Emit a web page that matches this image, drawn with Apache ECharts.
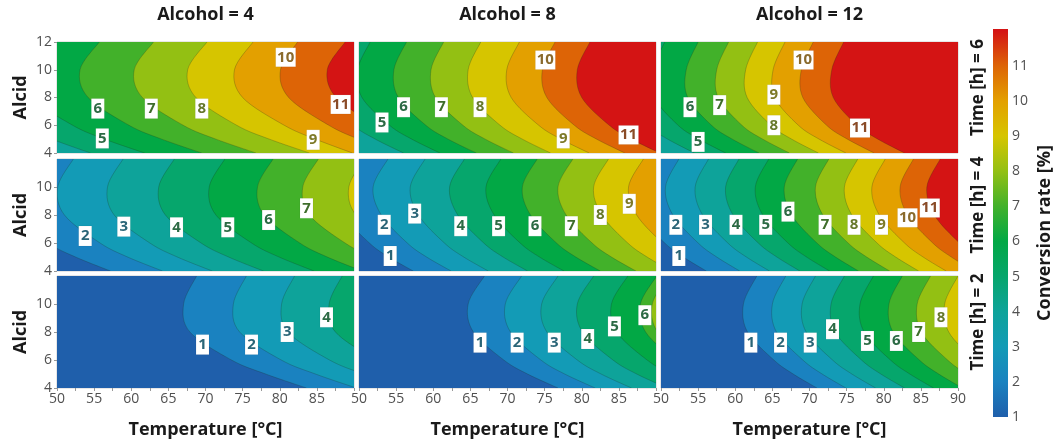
<!DOCTYPE html>
<html>
<head>
<meta charset="utf-8">
<script src="https://cdn.jsdelivr.net/npm/echarts@6/dist/echarts.min.js"></script>
<style>
  html, body { margin: 0; padding: 0; background: #fff; }
  #chart { width: 1055px; height: 442px; }
</style>
</head>
<body>
<div id="chart"></div>
<script>
const alcidSamples = [4, 5, 6, 8, 10, 12];
const alcohols = [4, 8, 12];
const times = [6, 4, 2];

// [level, T at alcid 4, 5, 6, 8, 10, 12]
const contoursT6A4 = [
  [4, 54.5, 49.3, 45.0, 39.6, 38.6, 41.2],
  [5, 61.8, 56.4, 52.1, 46.6, 45.6, 48.2],
  [6, 69.5, 64.1, 59.7, 54.2, 53.1, 55.7],
  [7, 76.8, 71.4, 67.0, 61.5, 60.4, 63.0],
  [8, 84.0, 78.6, 74.2, 68.7, 67.6, 70.2],
  [9, 89.8, 84.8, 80.6, 75.0, 73.9, 76.4],
  [10, 95.5, 90.6, 86.6, 81.2, 80.1, 82.4],
  [11, 101.5, 97.0, 93.0, 87.6, 86.4, 88.8]
];
const contoursT6A8 = [
  [4, 56.0, 52.2, 49.2, 45.5, 44.9, 46.6],
  [5, 60.9, 57.1, 54.1, 50.4, 49.8, 51.5],
  [6, 65.8, 62.0, 59.0, 55.3, 54.7, 56.4],
  [7, 70.8, 67.0, 64.0, 60.3, 59.7, 61.4],
  [8, 75.8, 72.0, 69.0, 65.3, 64.7, 66.4],
  [9, 81.0, 77.2, 74.2, 70.5, 69.9, 71.6],
  [10, 85.8, 82.0, 79.0, 75.3, 74.7, 76.4],
  [11, 90.5, 86.7, 83.7, 80.0, 79.4, 81.1]
];
const contoursT6A12 = [
  [4, 54.5, 50.9, 48.1, 44.9, 44.7, 46.3],
  [5, 58.7, 55.1, 52.3, 49.1, 48.9, 50.5],
  [6, 63.2, 59.6, 56.8, 53.6, 53.4, 55.0],
  [7, 67.3, 63.7, 60.9, 57.7, 57.5, 59.1],
  [8, 71.2, 67.6, 64.8, 61.6, 61.4, 63.0],
  [9, 74.9, 71.3, 68.5, 65.3, 65.1, 66.7],
  [10, 78.7, 75.1, 72.3, 69.1, 68.9, 70.5],
  [11, 82.8, 79.2, 76.4, 73.2, 73.0, 74.6]
];
const contoursT4A4 = [
  [1, 57.2, 52.5, 48.8, 44.0, 43.1, 45.2],
  [2, 64.2, 59.5, 55.8, 51.0, 50.1, 52.2],
  [3, 70.9, 66.2, 62.5, 57.7, 56.8, 58.9],
  [4, 77.8, 73.1, 69.4, 64.6, 63.7, 65.8],
  [5, 84.6, 79.9, 76.2, 71.4, 70.5, 72.6],
  [6, 91.1, 86.4, 82.7, 77.9, 77.0, 79.1],
  [7, 97.2, 92.5, 88.8, 84.0, 83.1, 85.2],
  [8, 103.4, 98.7, 95.0, 90.25, 89.3, 91.4]
];
const contoursT4A8 = [
  [1, 57.3, 54.0, 51.4, 47.9, 46.8, 48.8],
  [2, 62.4, 59.1, 56.5, 53.0, 51.9, 53.9],
  [3, 67.4, 64.1, 61.5, 58.0, 56.9, 58.9],
  [4, 72.7, 69.4, 66.8, 63.3, 62.2, 64.2],
  [5, 77.6, 74.3, 71.7, 68.2, 67.1, 69.1],
  [6, 82.5, 79.2, 76.6, 73.1, 72.0, 74.0],
  [7, 87.3, 84.0, 81.4, 77.9, 76.8, 78.8],
  [8, 92.1, 88.8, 86.2, 82.7, 81.6, 83.6],
  [9, 96.8, 93.5, 90.9, 87.4, 86.3, 88.3]
];
const contoursT4A12 = [
  [1, 56.1, 53.0, 50.5, 47.1, 46.1, 47.9],
  [2, 60.6, 57.5, 55.0, 51.6, 50.6, 52.4],
  [3, 64.6, 61.5, 59.0, 55.6, 54.6, 56.4],
  [4, 68.7, 65.6, 63.1, 59.7, 58.7, 60.5],
  [5, 72.7, 69.6, 67.1, 63.7, 62.7, 64.5],
  [6, 76.6, 73.5, 71.0, 67.6, 66.6, 68.4],
  [7, 80.8, 77.7, 75.2, 71.8, 70.8, 72.6],
  [8, 84.7, 81.6, 79.1, 75.7, 74.7, 76.5],
  [9, 88.4, 85.3, 82.8, 79.4, 78.4, 80.2],
  [10, 92.2, 89.1, 86.6, 83.2, 82.2, 84.0],
  [11, 95.8, 92.7, 90.2, 86.8, 85.8, 87.6]
];
const contoursT2A4 = [
  [1, 83.6, 78.1, 73.5, 67.9, 67.05, 68.8],
  [2, 90.3, 84.8, 80.2, 74.6, 73.75, 75.5],
  [3, 96.8, 91.3, 86.7, 81.1, 80.25, 82.0],
  [4, 103.2, 97.7, 93.1, 87.5, 86.65, 88.4]
];
const contoursT2A8 = [
  [1, 76.8, 72.7, 69.5, 65.4, 64.7, 66.9],
  [2, 81.8, 77.7, 74.5, 70.4, 69.7, 71.9],
  [3, 86.7, 82.6, 79.4, 75.3, 74.6, 76.8],
  [4, 91.5, 87.4, 84.2, 80.1, 79.4, 81.6],
  [5, 96.1, 92.0, 88.8, 84.7, 84.0, 86.2],
  [6, 100.0, 95.9, 92.7, 88.6, 87.9, 90.1],
  [7, 101.6, 97.5, 94.3, 90.2, 89.5, 91.7]
];
const contoursT2A12 = [
  [1, 71.0, 67.8, 65.2, 61.65, 61.1, 62.9],
  [2, 74.9, 71.7, 69.1, 65.55, 65.0, 66.8],
  [3, 78.9, 75.7, 73.1, 69.55, 69.0, 70.8],
  [4, 82.8, 79.6, 77.0, 73.45, 72.9, 74.7],
  [5, 86.7, 83.5, 80.9, 77.35, 76.8, 78.6],
  [6, 90.6, 87.4, 84.8, 81.25, 80.7, 82.5],
  [7, 94.4, 91.2, 88.6, 85.05, 84.5, 86.3],
  [8, 98.1, 94.9, 92.3, 88.75, 88.2, 90.0]
];

// contour labels: [temperature, alcid, level]
const labelsT6A4 = [[56.1, 5.05, 5], [55.5, 7.2, 6], [62.7, 7.2, 7], [69.5, 7.2, 8], [84.5, 4.95, 9], [80.8, 10.9, 10], [88.2, 7.5, 11]];
const labelsT6A8 = [[53.1, 6.2, 5], [56.0, 7.3, 6], [61.1, 7.3, 7], [66.3, 7.3, 8], [77.5, 5.05, 9], [75.1, 10.7, 10], [86.3, 5.3, 11]];
const labelsT6A12 = [[55.0, 4.8, 5], [53.9, 7.3, 6], [57.9, 7.45, 7], [65.2, 6.0, 8], [65.2, 8.2, 9], [69.2, 10.7, 10], [76.8, 5.8, 11]];
const labelsT4A4 = [[53.8, 6.5, 2], [59.0, 7.17, 3], [66.1, 7.12, 4], [73.0, 7.12, 5], [78.5, 7.64, 6], [83.6, 8.48, 7]];
const labelsT4A8 = [[54.2, 5.07, 1], [53.4, 7.3, 2], [57.5, 8.1, 3], [63.7, 7.2, 4], [68.8, 7.2, 5], [73.7, 7.2, 6], [78.6, 7.2, 7], [82.5, 8.0, 8], [86.4, 8.8, 9]];
const labelsT4A12 = [[52.4, 5.07, 1], [52.0, 7.3, 2], [56.0, 7.3, 3], [60.1, 7.3, 4], [64.1, 7.3, 5], [67.1, 8.24, 6], [72.1, 7.3, 7], [76.0, 7.3, 8], [79.7, 7.3, 9], [83.2, 7.8, 10], [86.2, 8.5, 11]];
const labelsT2A4 = [[69.6, 7.1, 1], [76.2, 7.1, 2], [81.0, 8.0, 3], [86.3, 9.05, 4]];
const labelsT2A8 = [[66.3, 7.24, 1], [71.3, 7.24, 2], [76.3, 7.24, 3], [80.8, 7.5, 4], [84.4, 8.4, 5], [88.5, 9.2, 6]];
const labelsT2A12 = [[62.1, 7.24, 1], [66.1, 7.24, 2], [70.1, 7.24, 3], [73.1, 8.2, 4], [77.8, 7.36, 5], [81.7, 7.36, 6], [84.7, 8.0, 7], [87.7, 9.05, 8]];

const panels = [
  [contoursT6A4, labelsT6A4], [contoursT6A8, labelsT6A8], [contoursT6A12, labelsT6A12],
  [contoursT4A4, labelsT4A4], [contoursT4A8, labelsT4A8], [contoursT4A12, labelsT4A12],
  [contoursT2A4, labelsT2A4], [contoursT2A8, labelsT2A8], [contoursT2A12, labelsT2A12]
];

const colorbarTicks = [1, 2, 3, 4, 5, 6, 7, 8, 9, 10, 11];
const colorbarMax = 12.05;

// colour at conversion rate 1..12 (a band [k-1, k) is drawn with the colour of k)
const rateColors = ['#1f5fab', '#1a82c0', '#139bb6', '#0ea39a', '#06a66c', '#02a845',
  '#42b12a', '#93c013', '#d6c500', '#e3a000', '#dd6406', '#d41414'];
const labelTextColors = ['#2a6577', '#2a6577', '#2a6577', '#2c6a44', '#2c6a44', '#2c6a44',
  '#3f6d2b', '#66782c', '#7e7a28', '#8a6a2c', '#8a4b27'];
const colorAt = v => rateColors[Math.max(0, Math.min(rateColors.length - 1, v - 1))];

const FONT = '"Open Sans", "Noto Sans", sans-serif';
const colLeft = [57, 359, 661];
const rowTop = [42, 159, 276];
const rowHeight = [111, 112, 112];
const panelWidth = 297;

function smoothPath(p) {
  let d = '';
  for (let i = 0; i < p.length - 1; i++) {
    const p0 = p[i - 1] || p[i], p1 = p[i], p2 = p[i + 1], p3 = p[i + 2] || p2;
    const c1 = [p1[0] + (p2[0] - p0[0]) / 6, p1[1] + (p2[1] - p0[1]) / 6];
    const c2 = [p2[0] - (p3[0] - p1[0]) / 6, p2[1] - (p3[1] - p1[1]) / 6];
    d += ' C' + c1[0] + ' ' + c1[1] + ' ' + c2[0] + ' ' + c2[1] + ' ' + p2[0] + ' ' + p2[1];
  }
  return d;
}

function renderContour(params, api) {
  const cs = params.coordSys;
  const level = api.value(0);
  const pts = alcidSamples.map((a, i) => api.coord([api.value(i + 1), a]));
  const first = pts[0], last = pts[pts.length - 1];
  const far = Math.max(cs.x + cs.width, ...pts.map(p => p[0])) + 40;
  const curve = smoothPath(pts);
  const fillD = 'M' + first[0] + ' ' + (first[1] + 40) + ' L' + first[0] + ' ' + first[1] + curve +
    ' L' + last[0] + ' ' + (last[1] - 40) + ' L' + far + ' ' + (last[1] - 40) +
    ' L' + far + ' ' + (first[1] + 40) + ' Z';
  const lineD = 'M' + first[0] + ' ' + (first[1] + 40) + ' L' + first[0] + ' ' + first[1] + curve +
    ' L' + last[0] + ' ' + (last[1] - 40);
  const children = [];
  if (params.dataIndex === 0) {
    children.push({ type: 'rect', shape: { x: cs.x, y: cs.y, width: cs.width, height: cs.height },
      style: { fill: colorAt(level) } });
  }
  children.push({ type: 'path', shape: { pathData: fillD }, style: { fill: colorAt(level + 1) } });
  children.push({ type: 'path', shape: { pathData: lineD },
    style: { fill: null, stroke: 'rgba(30,45,30,0.35)', lineWidth: 0.7 } });
  return { type: 'group', children };
}

const grid = [], xAxis = [], yAxis = [], series = [];
panels.forEach(([contours, labels], i) => {
  const r = Math.floor(i / 3), c = i % 3;
  grid.push({ left: colLeft[c], top: rowTop[r], width: panelWidth, height: rowHeight[r],
    show: true, borderColor: '#cfcfcf', borderWidth: 1, backgroundColor: 'transparent' });
  const bottom = r === 2;
  xAxis.push({
    gridIndex: i, type: 'value', min: 50, max: 90, interval: 5,
    axisLine: { show: false },
    axisTick: { show: bottom, length: 3, lineStyle: { color: '#999' } },
    minorTick: { show: bottom, splitNumber: 2, length: 3, lineStyle: { color: '#999' } },
    splitLine: { show: false },
    axisLabel: { show: bottom, showMaxLabel: c === 2, color: '#505050', fontSize: 14, margin: 4, fontFamily: FONT },
    name: bottom ? 'Temperature [°C]' : '', nameLocation: 'middle', nameGap: 33,
    nameTextStyle: { fontSize: 18, fontWeight: 'bold', color: '#1a1a1a', fontFamily: FONT }
  });
  const left = c === 0;
  yAxis.push({
    gridIndex: i, type: 'value', min: 4, max: 12, interval: 2,
    axisLine: { show: false },
    axisTick: { show: left, length: 3, lineStyle: { color: '#999' } },
    splitLine: { show: false },
    axisLabel: { show: left, showMaxLabel: r === 0, color: '#505050', fontSize: 14, margin: 5, fontFamily: FONT },
    name: left ? 'Alcid' : '', nameLocation: 'middle', nameGap: 27, nameRotate: 90,
    nameTextStyle: { fontSize: 18, fontWeight: 'bold', color: '#1a1a1a', fontFamily: FONT }
  });
  series.push({
    type: 'custom', xAxisIndex: i, yAxisIndex: i, clip: true, silent: true,
    renderItem: renderContour, data: contours, z: 2
  });
  series.push({
    type: 'scatter', xAxisIndex: i, yAxisIndex: i, silent: true, z: 5,
    symbol: 'rect',
    symbolSize: v => (v[2] >= 10 ? [20, 19] : [13, 20]),
    itemStyle: { color: '#fff', borderColor: 'rgba(0,0,0,0.1)', borderWidth: 0.5, opacity: 1 },
    data: labels.map(d => ({
      value: d,
      label: { color: labelTextColors[d[2] - 1] }
    })),
    label: { show: true, position: 'inside', formatter: p => p.value[2],
      fontSize: 15, fontWeight: 'bold', fontFamily: FONT }
  });
});

// colour bar
grid.push({ left: 993, top: 29, width: 15, height: 388 });
xAxis.push({ gridIndex: 9, type: 'value', min: 0, max: 1, show: false });
yAxis.push({
  gridIndex: 9, type: 'value', position: 'right', min: colorbarTicks[0], max: colorbarMax, interval: 1,
  axisLine: { show: false }, axisTick: { show: false }, splitLine: { show: false },
  axisLabel: { color: '#505050', fontSize: 14, margin: 4, fontFamily: FONT,
    formatter: v => (colorbarTicks.includes(v) ? String(v) : '') }
});
const gradientStops = rateColors.map((col, k) => ({
  offset: Math.min(1, k / (colorbarMax - 1)), color: col
}));
series.push({
  type: 'custom', xAxisIndex: 9, yAxisIndex: 9, silent: true,
  data: [[0, colorbarTicks[0], 1, colorbarMax]],
  renderItem: (params, api) => {
    const p0 = api.coord([api.value(0), api.value(1)]);
    const p1 = api.coord([api.value(2), api.value(3)]);
    return {
      type: 'rect',
      shape: { x: p0[0], y: p1[1], width: p1[0] - p0[0], height: p0[1] - p1[1] },
      style: { fill: new echarts.graphic.LinearGradient(0, 1, 0, 0, gradientStops) }
    };
  }
});

const graphic = [];
alcohols.forEach((a, c) => {
  graphic.push({ type: 'text', x: colLeft[c] + panelWidth / 2, y: 15,
    style: { text: 'Alcohol = ' + a, font: 'bold 18px ' + FONT, fill: '#1a1a1a',
      textAlign: 'center', textVerticalAlign: 'middle' } });
});
times.forEach((t, r) => {
  graphic.push({ type: 'text', x: 978, y: rowTop[r] + rowHeight[r] / 2 - 10, rotation: Math.PI / 2,
    style: { text: 'Time [h] = ' + t, font: 'bold 17px ' + FONT, fill: '#1a1a1a',
      textAlign: 'center', textVerticalAlign: 'middle' } });
});
graphic.push({ type: 'text', x: 1045, y: 233, rotation: Math.PI / 2,
  style: { text: 'Conversion rate [%]', font: 'bold 18px ' + FONT, fill: '#1a1a1a',
    textAlign: 'center', textVerticalAlign: 'middle' } });

const chart = echarts.init(document.getElementById('chart'));
chart.setOption({
  animation: false,
  backgroundColor: '#fff',
  grid, xAxis, yAxis, series, graphic
});
</script>
</body>
</html>
